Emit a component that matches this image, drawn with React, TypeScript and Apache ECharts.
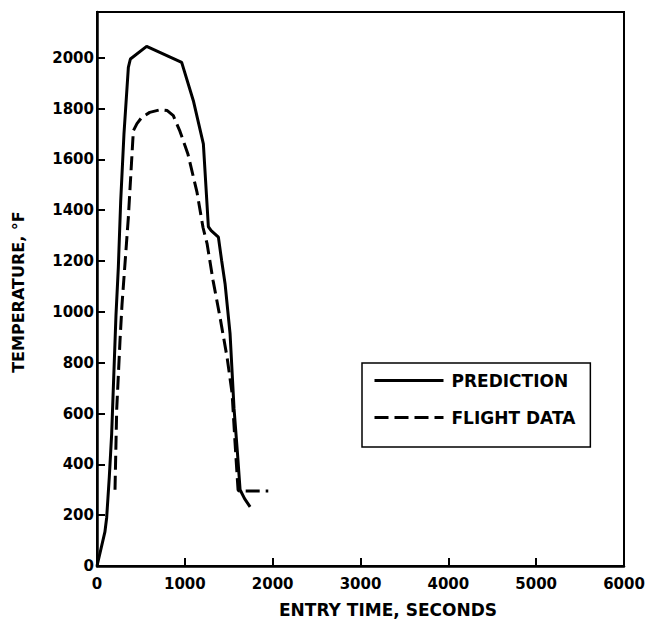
import React, { useEffect, useRef } from "react";
import * as echarts from "echarts";

// Prediction (solid) curve: entry time in seconds, temperature in °F
const predictionTime = [0, 90, 110, 140, 167, 216, 243, 270, 307, 357, 380, 565, 964, 1097, 1211, 1268, 1300, 1382, 1419, 1458, 1515, 1560, 1600, 1629, 1680, 1743];
const predictionTemp = [0, 134, 190, 350, 520, 986, 1176, 1438, 1700, 1962, 1995, 2045, 1982, 1831, 1661, 1335, 1320, 1294, 1202, 1111, 914, 620, 440, 300, 265, 233];

// Flight data (dashed) curve
const flightTime = [205, 224, 262, 285, 357, 414, 455, 509, 600, 717, 800, 869, 945, 1036, 1139, 1207, 1253, 1321, 1401, 1481, 1538, 1572, 1606, 1620, 1950];
const flightTemp = [300, 613, 888, 1030, 1372, 1713, 1741, 1765, 1785, 1795, 1792, 1772, 1710, 1620, 1470, 1332, 1269, 1124, 978, 821, 680, 483, 299, 295, 295];

const seriesNames = ["PREDICTION", "FLIGHT DATA"];
const xTitle = "ENTRY TIME, SECONDS";
const yTitle = "TEMPERATURE, °F";

const FONT = '"DejaVu Sans", "Liberation Sans", Arial, sans-serif';

export default function App() {
  const ref = useRef<HTMLDivElement>(null);

  useEffect(() => {
    if (!ref.current) return;
    const chart = echarts.init(ref.current, undefined, { renderer: "svg" });
    const pred = predictionTime.map((t, i) => [t, predictionTemp[i]]);
    const flight = flightTime.map((t, i) => [t, flightTemp[i]]);

    chart.setOption({
      animation: false,
      backgroundColor: "#fff",
      grid: {
        left: 97,
        right: 24,
        top: 12,
        bottom: 61,
        show: true,
        borderColor: "#000",
        borderWidth: 2,
        backgroundColor: "transparent",
      },
      xAxis: {
        type: "value",
        min: 0,
        max: 6000,
        interval: 1000,
        splitLine: { show: false },
        axisLine: { show: true, lineStyle: { color: "#000", width: 2.5 } },
        axisTick: { show: true, inside: true, length: 8, lineStyle: { color: "#000", width: 2 } },
        axisLabel: {
          color: "#000",
          fontFamily: FONT,
          fontWeight: "bold",
          fontSize: 15,
          margin: 10,
          formatter: (v: number) => String(v),
        },
      },
      yAxis: {
        type: "value",
        min: 0,
        max: 2180,
        interval: 200,
        splitLine: { show: false },
        axisLine: { show: true, lineStyle: { color: "#000", width: 2.5 } },
        axisTick: { show: true, inside: true, length: 8, lineStyle: { color: "#000", width: 2 } },
        axisLabel: {
          color: "#000",
          fontFamily: FONT,
          fontWeight: "bold",
          fontSize: 15,
          margin: 3,
          formatter: (v: number) => (v > 2000 ? "" : String(v)),
        },
      },
      legend: {
        orient: "vertical",
        left: 362,
        top: 363,
        data: seriesNames,
        selectedMode: false,
        borderColor: "#000",
        borderWidth: 1.5,
        borderRadius: 0,
        padding: [9, 15, 21, 11],
        itemGap: 20,
        itemWidth: 69,
        itemHeight: 14,
        itemStyle: { opacity: 0 },
        lineStyle: { width: 3, color: "#000" },
        textStyle: {
          color: "#000",
          fontFamily: FONT,
          fontWeight: "bold",
          fontSize: 17,
          padding: [0, 0, 0, 3],
        },
      },
      graphic: [
        {
          type: "text",
          x: 388,
          y: 610,
          style: {
            text: xTitle,
            font: 'bold 17px "DejaVu Sans"',
            fill: "#000",
            textAlign: "center",
            textVerticalAlign: "middle",
          },
        },
        {
          type: "text",
          x: 18,
          y: 292,
          rotation: Math.PI / 2,
          style: {
            text: yTitle,
            font: 'bold 16px "DejaVu Sans"',
            fill: "#000",
            textAlign: "center",
            textVerticalAlign: "middle",
          },
        },
      ],
      series: [
        {
          name: seriesNames[0],
          type: "line",
          data: pred,
          symbol: "none",
          smooth: false,
          lineStyle: { color: "#000", width: 3 },
          itemStyle: { color: "#000" },
        },
        {
          name: seriesNames[1],
          type: "line",
          data: flight,
          symbol: "none",
          smooth: false,
          lineStyle: { color: "#000", width: 3, type: [14, 6] },
          itemStyle: { color: "#000" },
        },
      ],
    });
    return () => chart.dispose();
  }, []);

  return (
    <div
      ref={ref}
      style={{ position: "fixed", left: 0, top: 0, width: 648, height: 627, background: "#fff" }}
    />
  );
}
